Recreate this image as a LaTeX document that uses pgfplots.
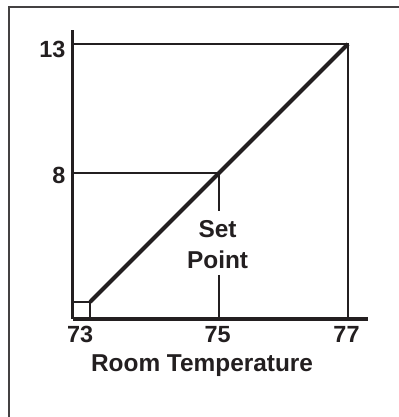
\documentclass[border=0pt]{standalone}
\usepackage{fontspec}
\setmainfont{Liberation Sans}
\usepackage{pgfplots}
\pgfplotsset{compat=1.18}
\definecolor{ink}{HTML}{231F20}
\begin{document}
\begin{tikzpicture}[x=1bp,y=1bp]
\useasboundingbox (0,0) rectangle (399,417);
% page frame (left and top edges only)
\draw[line width=1.4bp, ink!85] (9,0) -- (9,410) -- (399,410);
\begin{axis}[
  at={(72.7bp,98bp)}, anchor=south west,
  scale only axis, width=295.3bp, height=289bp,
  xmin=72.73, xmax=77.31, ymin=2.34, ymax=13.54,
  clip=false,
  axis lines=left,
  axis line style={-, line width=3bp, draw=ink},
  major tick length=0pt,
  /pgf/number format/assume math mode=true,
  xtick={73,75,77},
  xticklabels={{\kern-20bp 73},{\kern-3bp 75},{\kern-3bp 77}},
  ytick={8,13},
  yticklabels={8,\raisebox{-3.7bp}{13}},
  xticklabel style={anchor=base, inner sep=0pt, yshift=-23bp,
    text=ink, font=\bfseries\fontsize{23.5}{23.5}\selectfont},
  yticklabel style={anchor=base east, inner sep=0pt, xshift=-7bp, yshift=-10.3bp,
    text=ink, font=\bfseries\fontsize{23.5}{23.5}\selectfont},
  xlabel={Room Temperature},
  xlabel style={at={(axis description cs:0.438,0)}, anchor=base,
    inner sep=0pt, yshift=-52bp, text=ink,
    font=\bfseries\fontsize{24.5}{24.5}\selectfont},
]
% guide lines
\addplot[draw=ink, line width=2.8bp] coordinates {(72.73,13) (77,13) (77,2.34)};
\addplot[draw=ink, line width=2.6bp] coordinates {(72.73,8) (75,8) (75,6.53)};
\addplot[draw=ink, line width=2.6bp] coordinates {(75,4.05) (75,2.34)};
\addplot[draw=ink, line width=2.6bp] coordinates {(72.73,3) (73,3) (73,2.34)};
% proportional response line
\addplot[draw=ink, line width=4bp] coordinates {(73,3) (75,8) (77,13)};
\node[anchor=base, inner sep=0pt, text=ink, font=\bfseries\fontsize{24.5}{24.5}\selectfont]
  at (axis cs:74.977,5.48) {Set};
\node[anchor=base, inner sep=0pt, text=ink, font=\bfseries\fontsize{24.5}{24.5}\selectfont]
  at (axis cs:74.977,4.305) {Point};
\end{axis}
\end{tikzpicture}
\end{document}
